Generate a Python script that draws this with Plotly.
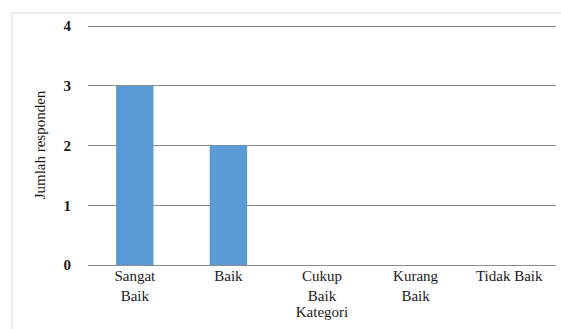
import plotly.graph_objects as go

categories = ["Sangat<br>Baik", "Baik", "Cukup<br>Baik", "Kurang<br>Baik", "Tidak Baik"]
values = [3, 2, 0, 0, 0]
y_ticks = [0, 1, 2, 3, 4]

W, H = 561, 329
L, R, T, B = 88, 5, 25, 64
pw, ph = W - L - R, H - T - B
SERIF = "Liberation Serif"

fig = go.Figure(go.Bar(x=categories, y=values, marker=dict(color="#5B9BD5", line=dict(width=0)), width=0.4))

fig.update_layout(
    width=W, height=H,
    margin=dict(l=L, r=R, t=T, b=B),
    paper_bgcolor="white", plot_bgcolor="white",
    font=dict(family=SERIF, size=15, color="#222"),
    showlegend=False,
    shapes=[dict(type="rect", xref="paper", yref="paper",
                 x0=(12 - L) / pw, x1=(W + 5 - L) / pw,
                 y0=-(H + 5 - T - ph) / ph, y1=(T + ph - 13) / ph,
                 line=dict(color="#d9d9d9", width=1), fillcolor="rgba(0,0,0,0)", layer="below")],
)
fig.update_xaxes(
    showgrid=False, showline=False, zeroline=False, ticks="",
    tickfont=dict(family=SERIF, size=15, color="#1a1a1a"),
    title=dict(text="Kategori", font=dict(family=SERIF, size=15, color="#1a1a1a"), standoff=2),
)
fig.update_yaxes(
    range=[0, 4.02], tickvals=y_ticks, showgrid=True, gridcolor="#8c8c8c", gridwidth=1,
    zeroline=True, zerolinecolor="#8c8c8c", zerolinewidth=1, showline=False, ticks="",
    ticklabelstandoff=16,
    tickfont=dict(family=SERIF, size=15, color="#1a1a1a", weight="bold"),
    title=dict(text="Jumlah responden", font=dict(family=SERIF, size=15, color="#1a1a1a"), standoff=14),
)
fig.write_html("out.html")
